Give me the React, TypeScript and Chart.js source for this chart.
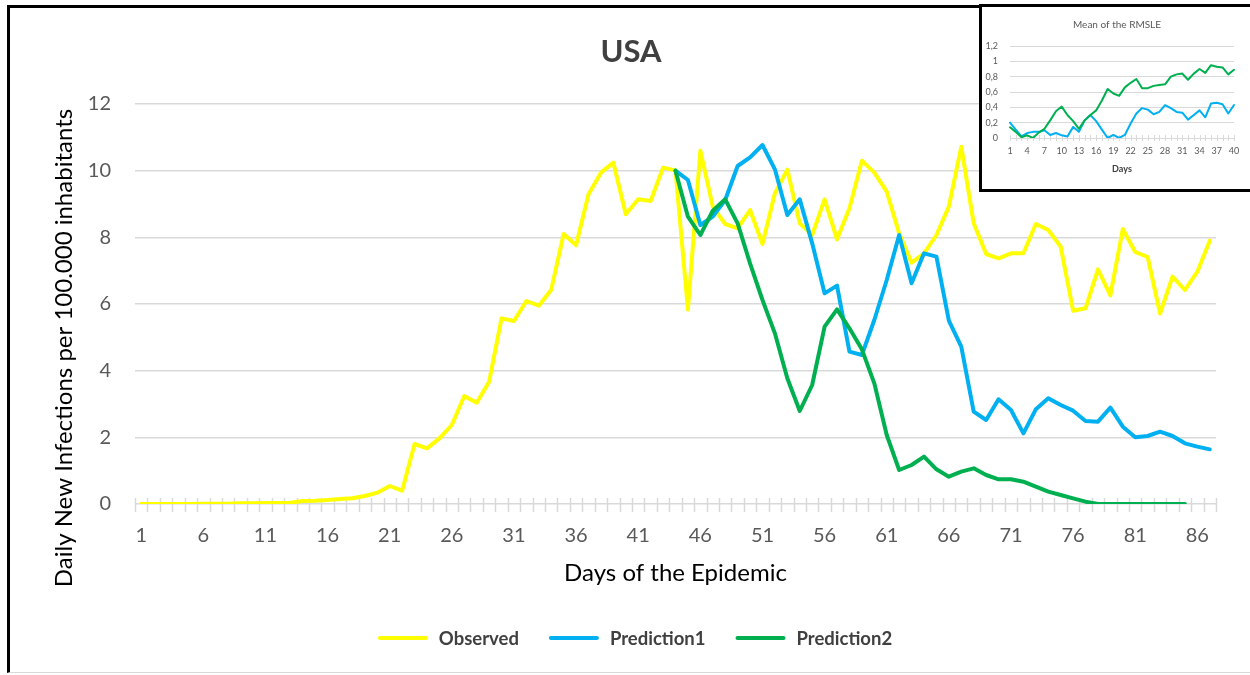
import React, { useEffect, useRef } from "react";
import { Chart, registerables } from "chart.js";

Chart.register(...registerables);

const FONT = "Lato, 'Open Sans', 'DejaVu Sans', sans-serif";

// ---------- Main chart data ----------
const dayLabels = Array.from({ length: 87 }, (_, i) => String(i + 1));

const observed = [
  0, 0, 0, 0, 0, 0.01, 0.01, 0.01, 0.02, 0.02,
  0.03, 0.03, 0.04, 0.09, 0.1, 0.12, 0.15, 0.17, 0.24, 0.34,
  0.54, 0.4, 1.8, 1.67, 1.97, 2.37, 3.24, 3.04, 3.67, 5.57,
  5.49, 6.09, 5.95, 6.43, 8.1, 7.76, 9.29, 9.94, 10.24, 8.69,
  9.14, 9.09, 10.09, 10.01, 5.83, 10.6, 8.92, 8.4, 8.27, 8.82,
  7.8, 9.32, 10.03, 8.42, 8.07, 9.14, 7.94, 8.87, 10.3, 9.94,
  9.37, 8.12, 7.24, 7.52, 8.07, 8.92, 10.72, 8.42, 7.5, 7.37,
  7.52, 7.52, 8.4, 8.22, 7.72, 5.8, 5.87, 7.04, 6.26, 8.25,
  7.56, 7.41, 5.71, 6.82, 6.42, 6.97, 7.9,
];

// Predictions start at day 44
const predictionStartDay = 44;
const prediction1 = [
  10.0, 9.72, 8.37, 8.62, 9.12, 10.14, 10.4, 10.77, 10.04, 8.67,
  9.14, 7.82, 6.32, 6.55, 4.57, 4.47, 5.52, 6.72, 8.07, 6.62,
  7.52, 7.42, 5.5, 4.72, 2.77, 2.52, 3.14, 2.82, 2.12, 2.84,
  3.17, 2.97, 2.8, 2.49, 2.47, 2.89, 2.32, 2.0, 2.04, 2.17,
  2.04, 1.82, 1.72, 1.64,
];
const prediction2 = [
  10.0, 8.62, 8.07, 8.8, 9.14, 8.42, 7.22, 6.12, 5.12, 3.77,
  2.79, 3.57, 5.32, 5.84, 5.27, 4.64, 3.62, 2.07, 1.02, 1.17,
  1.42, 1.04, 0.82, 0.97, 1.07, 0.87, 0.74, 0.74, 0.67, 0.52,
  0.37, 0.27, 0.17, 0.07, 0, 0, 0, 0, 0, 0,
  0, 0,
];

const mainYTicks = [0, 2, 4, 6, 8, 10, 12];

// ---------- Inset data ----------
const insetDays = Array.from({ length: 40 }, (_, i) => String(i + 1));
const insetPrediction1 = [
  0.2, 0.11, 0.02, 0.065, 0.08, 0.08, 0.1, 0.04, 0.065, 0.035,
  0.02, 0.145, 0.08, 0.23, 0.3, 0.22, 0.11, 0.0, 0.04, 0.0,
  0.04, 0.19, 0.32, 0.39, 0.37, 0.31, 0.34, 0.43, 0.39, 0.34,
  0.33, 0.24, 0.3, 0.36, 0.27, 0.45, 0.46, 0.44, 0.32, 0.43,
];
const insetPrediction2 = [
  0.14, 0.08, 0.01, 0.035, 0.0, 0.07, 0.12, 0.23, 0.35, 0.41,
  0.3, 0.22, 0.12, 0.23, 0.3, 0.36, 0.49, 0.64, 0.58, 0.55,
  0.66, 0.72, 0.77, 0.65, 0.65, 0.68, 0.69, 0.7, 0.8, 0.83,
  0.84, 0.76, 0.84, 0.9, 0.85, 0.95, 0.93, 0.92, 0.83, 0.89,
];

const COLORS = { observed: "#FFFF00", p1: "#00B0F0", p2: "#00B050", grid: "#d9d9d9", tick: "#595959" };

function pad(values: number[], start: number, total: number) {
  const out: (number | null)[] = [];
  for (let i = 0; i < start - 1; i++) out.push(null);
  for (const v of values) out.push(v);
  while (out.length < total) out.push(null);
  return out;
}

const crossTicks = {
  id: "crossTicks",
  beforeDatasetsDraw(chart: any, _args: any, opts: any) {
    const xs = chart.scales.x;
    const ys = chart.scales.y;
    const ctx = chart.ctx;
    const n = chart.data.labels.length;
    const y0 = ys.getPixelForValue(0);
    const pos: number[] = [];
    if (opts.between) {
      const step = xs.getPixelForValue(1) - xs.getPixelForValue(0);
      for (let i = 0; i < n; i++) pos.push(xs.getPixelForValue(i) - step / 2);
      pos.push(xs.getPixelForValue(n - 1) + step / 2);
    } else {
      for (let i = 0; i < n; i++) pos.push(xs.getPixelForValue(i));
    }
    ctx.save();
    ctx.strokeStyle = opts.color;
    ctx.lineWidth = opts.width;
    ctx.beginPath();
    for (const x of pos) {
      ctx.moveTo(Math.round(x) + 0.5, y0 - opts.up);
      ctx.lineTo(Math.round(x) + 0.5, y0 + opts.down);
    }
    ctx.stroke();
    ctx.restore();
  },
};

const mainText = {
  id: "mainText",
  afterDraw(chart: any) {
    const ctx = chart.ctx;
    const area = chart.chartArea;
    ctx.save();
    // Title
    ctx.fillStyle = "#404040";
    ctx.font = `bold 31px ${FONT}`;
    ctx.textAlign = "center";
    ctx.textBaseline = "middle";
    ctx.fillText("USA", 631, 52);
    // Y title
    ctx.fillStyle = "#000";
    ctx.font = `24px ${FONT}`;
    ctx.save();
    ctx.translate(64, 348);
    ctx.rotate(-Math.PI / 2);
    ctx.fillText("Daily New Infections per 100.000 inhabitants", 0, 0);
    ctx.restore();
    // X title
    ctx.fillText("Days of the Epidemic", (area.left + area.right) / 2, 573);
    // Legend
    const items = chart.data.datasets.map((d: any) => ({ label: d.label, color: d.borderColor }));
    ctx.font = `bold 18.5px ${FONT}`;
    const lineLen = 50, gap = 11, between = 30;
    const widths = items.map((it: any) => lineLen + gap + ctx.measureText(it.label).width);
    const total = widths.reduce((a: number, b: number) => a + b, 0) + between * (items.length - 1);
    let x = 635 - total / 2;
    const ly = 638;
    ctx.textAlign = "left";
    items.forEach((it: any, i: number) => {
      ctx.strokeStyle = it.color;
      ctx.lineWidth = 4;
      ctx.lineCap = "round";
      ctx.beginPath();
      ctx.moveTo(x + 2, ly);
      ctx.lineTo(x + lineLen - 2, ly);
      ctx.stroke();
      ctx.fillStyle = "#404040";
      ctx.fillText(it.label, x + lineLen + gap, ly + 1);
      x += widths[i] + between;
    });
    ctx.restore();
  },
};

const insetText = {
  id: "insetText",
  afterDraw(chart: any) {
    const ctx = chart.ctx;
    const area = chart.chartArea;
    ctx.save();
    ctx.textAlign = "center";
    ctx.textBaseline = "middle";
    ctx.fillStyle = "#595959";
    ctx.font = `10px ${FONT}`;
    ctx.fillText("Mean of the RMSLE", 135, 18);
    ctx.fillStyle = "#404040";
    ctx.font = `bold 9px ${FONT}`;
    ctx.fillText("Days", (area.left + area.right) / 2, 162);
    ctx.restore();
  },
};

export default function App() {
  const mainRef = useRef<HTMLCanvasElement>(null);
  const insetRef = useRef<HTMLCanvasElement>(null);

  useEffect(() => {
    const lineDs = (label: string, data: any[], color: string, order: number, width: number) => ({
      label,
      data,
      borderColor: color,
      backgroundColor: color,
      borderWidth: width,
      pointRadius: 0,
      tension: 0,
      fill: false,
      order,
      borderJoinStyle: "round" as const,
      borderCapStyle: "round" as const,
    });

    const main = new Chart(mainRef.current!, {
      type: "line",
      data: {
        labels: dayLabels,
        datasets: [
          lineDs("Observed", observed, COLORS.observed, 2, 4),
          lineDs("Prediction1", pad(prediction1, predictionStartDay, dayLabels.length), COLORS.p1, 1, 4),
          lineDs("Prediction2", pad(prediction2, predictionStartDay, dayLabels.length), COLORS.p2, 0, 4),
        ],
      },
      options: {
        animation: false,
        responsive: false,
        maintainAspectRatio: false,
        layout: { padding: { left: 0, right: 34, top: 104, bottom: 0 } },
        plugins: {
          legend: { display: false },
          title: { display: false },
          tooltip: { enabled: false },
          crossTicks: { between: true, color: COLORS.grid, width: 1.5, up: 6, down: 8 },
        } as any,
        scales: {
          x: {
            offset: true,
            grid: { display: false, drawTicks: false },
            border: { display: false },
            ticks: {
              autoSkip: false,
              maxRotation: 0,
              padding: 20,
              color: COLORS.tick,
              font: { family: FONT, size: 20 },
              callback: (_v: any, i: number) => (i % 5 === 0 ? dayLabels[i] : ""),
            },
            afterFit: (s: any) => {
              s.height = 171;
            },
          },
          y: {
            min: mainYTicks[0],
            max: mainYTicks[mainYTicks.length - 1],
            afterBuildTicks: (s: any) => {
              s.ticks = mainYTicks.map((v) => ({ value: v }));
            },
            grid: { color: COLORS.grid, lineWidth: 1.5, drawTicks: false },
            border: { display: false },
            ticks: { padding: 24, color: COLORS.tick, font: { family: FONT, size: 20 } },
            afterFit: (s: any) => {
              s.width = 135;
            },
          },
        },
      },
      plugins: [crossTicks, mainText],
    });

    const inset = new Chart(insetRef.current!, {
      type: "line",
      data: {
        labels: insetDays,
        datasets: [
          lineDs("Prediction1", insetPrediction1, COLORS.p1, 1, 2),
          lineDs("Prediction2", insetPrediction2, COLORS.p2, 0, 2),
        ],
      },
      options: {
        animation: false,
        responsive: false,
        maintainAspectRatio: false,
        layout: { padding: { left: 0, right: 16, top: 39, bottom: 0 } },
        plugins: {
          legend: { display: false },
          title: { display: false },
          tooltip: { enabled: false },
          crossTicks: { between: false, color: COLORS.grid, width: 1, up: 3, down: 3 },
        } as any,
        scales: {
          x: {
            offset: false,
            grid: { display: false, drawTicks: false },
            border: { display: false },
            ticks: {
              autoSkip: false,
              maxRotation: 0,
              padding: 8,
              color: COLORS.tick,
              font: { family: FONT, size: 9 },
              callback: (_v: any, i: number) => (i % 3 === 0 ? insetDays[i] : ""),
            },
            afterFit: (s: any) => {
              s.height = 51;
            },
          },
          y: {
            min: 0,
            max: 1.2,
            grid: { color: COLORS.grid, lineWidth: 1, drawTicks: false },
            border: { display: false },
            ticks: {
              stepSize: 0.2,
              padding: 12,
              color: COLORS.tick,
              font: { family: FONT, size: 9 },
              callback: (v: any) => String(Number(Number(v).toFixed(1))).replace(".", ","),
            },
            afterFit: (s: any) => {
              s.width = 28;
            },
          },
        },
      },
      plugins: [crossTicks, insetText],
    });

    return () => {
      main.destroy();
      inset.destroy();
    };
  }, []);

  return (
    <div style={{ position: "fixed", left: 0, top: 0, width: 1250, height: 675, background: "#fff", overflow: "hidden" }}>
      <canvas ref={mainRef} width={1250} height={675} style={{ position: "absolute", left: 0, top: 0 }} />
      <div
        style={{
          position: "absolute",
          left: 7,
          top: 5,
          width: 1243,
          height: 668,
          boxSizing: "border-box",
          borderLeft: "3px solid #000",
          borderTop: "3px solid #000",
          borderBottom: "1px solid #d9d9d9",
          pointerEvents: "none",
        }}
      />
      <div
        style={{
          position: "absolute",
          left: 979,
          top: 4,
          width: 271,
          height: 188,
          boxSizing: "border-box",
          borderLeft: "3px solid #000",
          borderTop: "3px solid #000",
          borderBottom: "3px solid #000",
          background: "#fff",
        }}
      >
        <canvas ref={insetRef} width={268} height={182} style={{ display: "block" }} />
      </div>
    </div>
  );
}
